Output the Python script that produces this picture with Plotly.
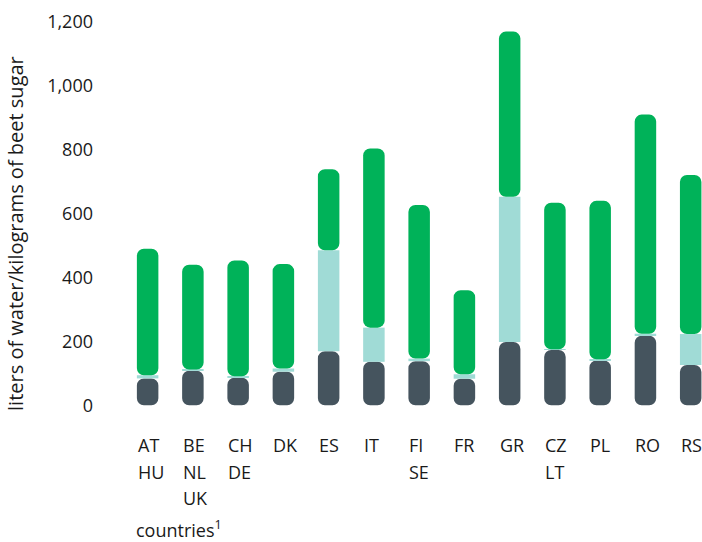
import plotly.graph_objects as go

categories = ["AT<br>HU", "BE<br>NL<br>UK", "CH<br>DE", "DK", "ES", "IT", "FI<br>SE",
              "FR", "GR", "CZ<br>LT", "PL", "RO", "RS"]
dark_values = [84, 108, 86, 105, 169, 136, 138, 83, 198, 173, 140, 218, 126]
light_values = [10, 4, 5, 10, 316, 107, 8, 14, 455, 2, 4, 6, 97]
total_values = [490, 440, 453, 442, 739, 804, 627, 360, 1170, 634, 640, 910, 721]
green_values = [t - d - l for t, d, l in zip(total_values, dark_values, light_values)]
y_ticks = [0, 200, 400, 600, 800, 1000, 1200]

DARK = "#45545e"
LIGHT = "#a0dbd6"
GREEN = "#00b259"
FONT = "Open Sans"
TXT = "#1a1a1a"

x_idx = list(range(len(categories)))
fig = go.Figure()
fig.add_trace(go.Bar(x=x_idx, y=[-d for d in dark_values], base=dark_values,
                     marker=dict(color=DARK, cornerradius=7, line=dict(width=0)), showlegend=False))
fig.add_trace(go.Bar(x=x_idx, y=light_values, base=dark_values,
                     marker=dict(color=LIGHT, line=dict(width=0)), showlegend=False))
fig.add_trace(go.Bar(x=x_idx, y=green_values,
                     base=[d + l for d, l in zip(dark_values, light_values)],
                     marker=dict(color=GREEN, cornerradius=7, line=dict(width=0)), showlegend=False))

H = 542
plot_top = 21.5
plot_bottom = 411.5
ph = plot_bottom - plot_top

def py(pix):
    return (plot_bottom - pix) / ph

line_centers = [445.5, 472.5, 499]
annotations = []
for i, cat in enumerate(categories):
    for j, part in enumerate(cat.split("<br>")):
        annotations.append(dict(x=i, xref="x", xanchor="left", xshift=-12,
                                y=py(line_centers[j]), yref="paper", yanchor="middle",
                                text=part, showarrow=False,
                                font=dict(family=FONT, size=18, color=TXT)))
annotations.append(dict(x=(134 - 125) / 577, xref="paper", xanchor="left",
                        y=py(530), yref="paper", yanchor="middle",
                        text="countries<sup>1</sup>", showarrow=False,
                        font=dict(family=FONT, size=18, color=TXT)))
annotations.append(dict(x=(16 - 125) / 577, xref="paper", xanchor="center",
                        y=py(234), yref="paper", yanchor="middle", textangle=-90,
                        text="liters of water/kilograms of beet sugar", showarrow=False,
                        font=dict(family=FONT, size=20, color=TXT)))

fig.update_layout(
    width=702, height=542,
    margin=dict(l=125, r=0, t=plot_top, b=H - plot_bottom),
    plot_bgcolor="white", paper_bgcolor="white",
    barmode="overlay", bargap=0.525,
    xaxis=dict(range=[-0.5, 12.25], showticklabels=False, showgrid=False,
               zeroline=False, showline=False, ticks=""),
    yaxis=dict(range=[-18, 1200], tickvals=y_ticks, tickformat=",",
               showgrid=False, zeroline=False, showline=False, ticks="",
               ticklabelstandoff=31,
               tickfont=dict(family=FONT, size=18, color=TXT)),
    annotations=annotations,
)
fig.write_html("out.html", config={"displayModeBar": False},
               post_script="document.body.style.margin='0px';")
